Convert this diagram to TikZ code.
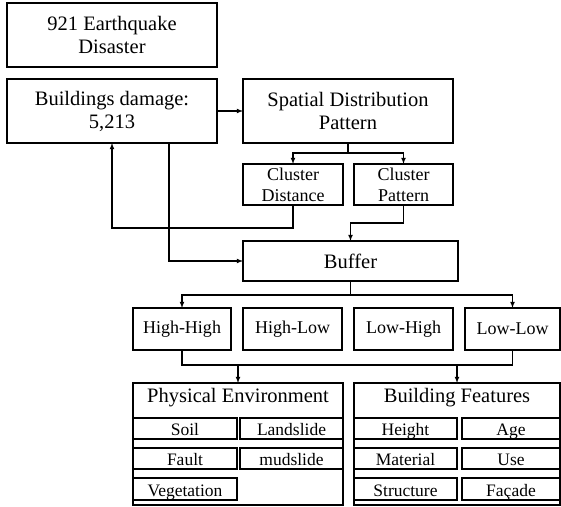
\documentclass[tikz,border=0pt]{standalone}
\usepackage{fontspec}
\setmainfont{Liberation Serif}

\begin{document}
\begin{tikzpicture}[x=1pt,y=-1pt,>=latex,line width=1.1pt,
  box/.style={draw=black,inner sep=0pt,outer sep=0pt,align=center,font=\fontsize{20.5}{23}\selectfont},
  smallbox/.style={draw=black,inner sep=0pt,outer sep=0pt,align=center,minimum height=41pt,font=\fontsize{18}{21}\selectfont},
  itembox/.style={draw=black,inner sep=0pt,outer sep=0pt,text height=14.5pt,text depth=0pt,font=\fontsize{17.5}{20}\selectfont}]
      \useasboundingbox (0,0) rectangle (561,506);
      \node[box,minimum width=210pt,minimum height=64pt] (quake) at (112,35) {921 Earthquake\\Disaster};
      \node[box,minimum width=210pt,minimum height=64pt] (damage) at (112,111) {Buildings damage:\\5,213};
      \node[box,minimum width=210pt,minimum height=64pt] (spatial) at (348,111) {Spatial Distribution\\Pattern};
      \node[smallbox,minimum width=100pt] (cdist) at (293,184.5) {Cluster\\Distance};
      \node[smallbox,minimum width=99pt] (cpat) at (403.5,184.5) {Cluster\\Pattern};
      \node[box,minimum width=215pt,minimum height=40pt] (buffer) at (350.5,261) {Buffer};
      \node[smallbox,minimum width=98pt,minimum height=42pt] (hh) at (182,329) {High-High};
      \node[smallbox,minimum width=99pt,minimum height=42pt] (hl) at (292.5,329) {High-Low};
      \node[smallbox,minimum width=99pt,minimum height=42pt] (lh) at (403.5,329) {Low-High};
      \node[smallbox,minimum width=95pt,minimum height=42pt] (ll) at (512.5,329) {Low-Low};
      \node[box,minimum width=210pt,minimum height=122pt] (phys) at (238,444) {};
      \node[box,minimum width=206pt,minimum height=122pt] (build) at (457,444) {};
      \node[font=\fontsize{20.5}{23}\selectfont] (physT) at (238,398) {Physical Environment};
      \node[font=\fontsize{20.5}{23}\selectfont] (buildT) at (457,398) {Building Features};
      \node[itembox,minimum width=104pt,minimum height=21pt] (soil) at (185,428.5) {Soil};
      \node[itembox,minimum width=103pt,minimum height=21pt] (landslide) at (291.5,428.5) {Landslide};
      \node[itembox,minimum width=104pt,minimum height=21pt] (fault) at (185,458.5) {Fault};
      \node[itembox,minimum width=103pt,minimum height=21pt] (mudslide) at (291.5,458.5) {mudslide};
      \node[itembox,minimum width=104pt,minimum height=22pt] (vegetation) at (185,489) {Vegetation};
      \node[itembox,minimum width=103pt,minimum height=21pt] (height) at (405.5,428.5) {Height};
      \node[itembox,minimum width=98pt,minimum height=21pt] (age) at (511,428.5) {Age};
      \node[itembox,minimum width=103pt,minimum height=21pt] (material) at (405.5,458.5) {Material};
      \node[itembox,minimum width=98pt,minimum height=21pt] (use) at (511,458.5) {Use};
      \node[itembox,minimum width=103pt,minimum height=22pt] (structure) at (405.5,489) {Structure};
      \node[itembox,minimum width=98pt,minimum height=22pt] (facade) at (511,489) {Façade};
      \coordinate (split) at (348,153);
      \coordinate (loopback) at (112,228);
      \coordinate (merge) at (350.5,223);
      \coordinate (highbar) at (350.5,295);
      \coordinate (lowbar) at (350,365);
      \path [->](damage) edge (spatial) ;
      \draw (spatial.south) -- (split) ;
      \draw [->](split) -| (cdist.north) ;
      \draw [->](split) -| (cpat.north) ;
      \draw [->](cdist.south) |- (loopback) -- (damage.south) ;
      \draw [->]([xshift=57pt]damage.south) |- (buffer.west) ;
      \draw [->](cpat.south) |- (merge) -- (buffer.north) ;
      \draw (buffer.south) -- (highbar) ;
      \draw [->](highbar) -| (hh.north) ;
      \draw [->](highbar) -| (ll.north) ;
      \draw (hh.south) |- (lowbar) -| (ll.south) ;
      \draw [->](phys.north |- lowbar) -- (phys.north) ;
      \draw [->](build.north |- lowbar) -- (build.north) ;

    \end{tikzpicture}
\end{document}
